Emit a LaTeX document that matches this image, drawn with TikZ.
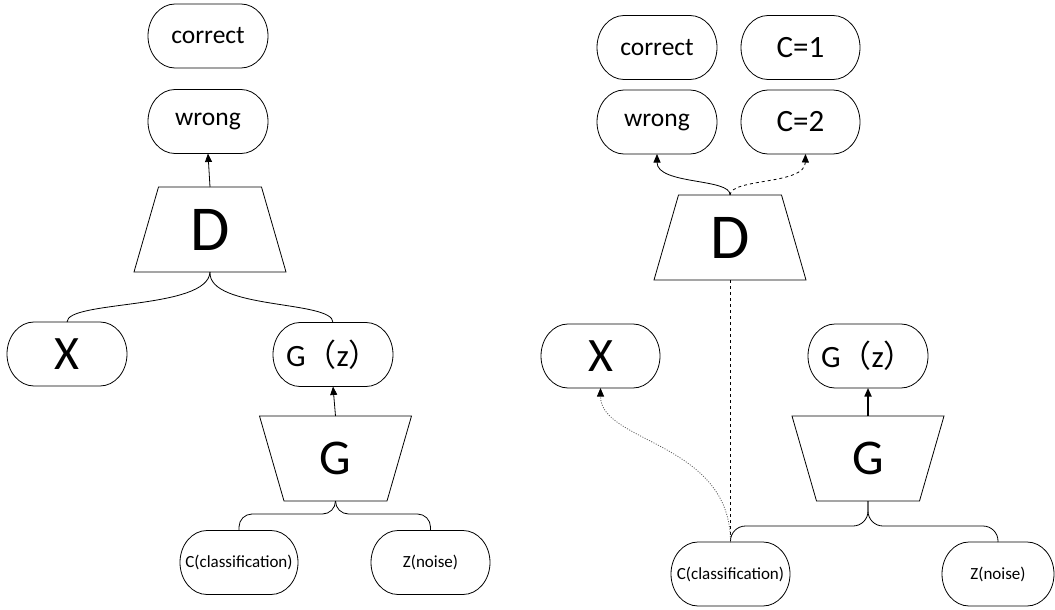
\documentclass[tikz,border=0pt]{standalone}
\usepackage{fontspec}
\setmainfont{Carlito}
\newfontfamily\cjk{Noto Sans CJK SC}
\usetikzlibrary{arrows.meta}

\tikzset{
  pill/.style={minimum width=120pt, minimum height=64pt, inner sep=0pt, outer sep=0pt},
  block/.style={minimum width=152pt, minimum height=85pt, inner sep=0pt, outer sep=0pt},
  outline/.style={line width=0.8pt},
  link/.style={line width=0.8pt},
  tip/.style={-{Triangle[length=8.5pt,width=7pt,color=black]}},
  fine/.style={draw=black!65, line width=0.8pt, dash pattern=on 1pt off 1.5pt},
  brace/.style={link, rounded corners=13pt},
  small/.style={font=\fontsize{17pt}{19pt}\selectfont},
  mid/.style={font=\fontsize{25.5pt}{28pt}\selectfont},
  big/.style={font=\fontsize{31pt}{34pt}\selectfont},
}

% capsule outline with elliptic ends around a node
\newcommand{\capsule}[1]{%
  \draw[outline] ([xshift=27pt]#1.north west) -- ([xshift=-27pt]#1.north east)
    arc[start angle=90, end angle=-90, x radius=27pt, y radius=32pt]
    -- ([xshift=27pt]#1.south west)
    arc[start angle=270, end angle=90, x radius=27pt, y radius=32pt] -- cycle;}
% trapezoid wide at the bottom (discriminator)
\newcommand{\narrowtop}[1]{%
  \draw[outline] ([xshift=24.5pt]#1.north west) -- ([xshift=-24.5pt]#1.north east)
    -- (#1.south east) -- (#1.south west) -- cycle;}
% trapezoid wide at the top (generator)
\newcommand{\narrowbottom}[1]{%
  \draw[outline] (#1.north west) -- (#1.north east)
    -- ([xshift=-24.5pt]#1.south east) -- ([xshift=24.5pt]#1.south west) -- cycle;}

\begin{document}
\begin{tikzpicture}[x=1pt,y=-1pt]
\useasboundingbox (0,0) rectangle (1055,610);

% ---------- plain GAN ----------
\node[pill, mid] (cor1) at (208,36) {correct};
\node[pill, mid] (wr1) at (208,121.5) {wrong};
\node[block, font=\fontsize{64pt}{70pt}\selectfont] (D1) at (210,229.5) {D};
\narrowtop{D1}
\node[pill, font=\fontsize{48pt}{52pt}\selectfont] (X1) at (67,354) {X};
\node[pill, big] (Gz1) at (333,354.5) {G{\cjk （}z{\cjk ）}};
\node[block, font=\fontsize{50pt}{56pt}\selectfont] (G1) at (335.5,458.5) {G};
\narrowbottom{G1}
\node[pill, small, minimum width=118pt] (C1) at (239,562.5) {C(classification)};
\node[pill, small, minimum width=119pt] (Z1) at (430.5,562.5) {Z(noise)};

\draw[link, tip] (D1.north) -- (wr1.south);
\draw[link] (D1.south) .. controls (208,310) and (67,300) .. (X1.north);
\draw[link] (D1.south) .. controls (208,310) and (333,300) .. (Gz1.north);
\draw[link, tip] (G1.north) -- (Gz1.south);
\draw[brace] (G1.south) -- ++(0,13) -| (C1.north);
\draw[brace] (G1.south) -- ++(0,13) -| (Z1.north);

% ---------- conditional GAN ----------
\node[pill, mid] (cor2) at (657,47.5) {correct};
\node[pill, big, minimum width=119pt] (cone) at (800.5,47.5) {C=1};
\node[pill, mid] (wr2) at (657,122) {wrong};
\node[pill, big, minimum width=119pt] (ctwo) at (800.5,122) {C=2};
\node[block, font=\fontsize{64pt}{70pt}\selectfont] (D2) at (730,237.5) {D};
\narrowtop{D2}
\node[pill, minimum width=119pt, font=\fontsize{48pt}{52pt}\selectfont] (X2) at (600.5,356) {X};
\node[pill, big] (Gz2) at (868,356) {G{\cjk （}z{\cjk ）}};
\node[block, font=\fontsize{50pt}{56pt}\selectfont] (G2) at (868,458.5) {G};
\narrowbottom{G2}
\node[pill, small, minimum width=119pt] (C2) at (730.5,574) {C(classification)};
\node[pill, small, minimum width=112pt] (Z2) at (998,574) {Z(noise)};

\foreach \n in {cor1,wr1,X1,Gz1,C1,Z1,cor2,cone,wr2,ctwo,X2,Gz2,C2,Z2} {\capsule{\n}}

\draw[link, tip] (D2.north) .. controls (731,178) and (657,185) .. (wr2.south);
\draw[link, tip, dashed] (D2.north) .. controls (731,178) and (805,185) .. ([xshift=5pt]ctwo.south);
\draw[link, dashed] (D2.south) -- (D2.south |- C2.north);
\draw[line width=1.6pt, tip] (G2.north) -- (Gz2.south);
\draw[brace, rounded corners=15pt] (G2.south) -- ++(0,25) -| (C2.north);
\draw[brace, rounded corners=15pt] (G2.south) -- ++(0,25) -| (Z2.north);
\draw[fine, tip] (C2.north) .. controls +(0,-100) and +(0,55) .. (X2.south);
\end{tikzpicture}
\end{document}
